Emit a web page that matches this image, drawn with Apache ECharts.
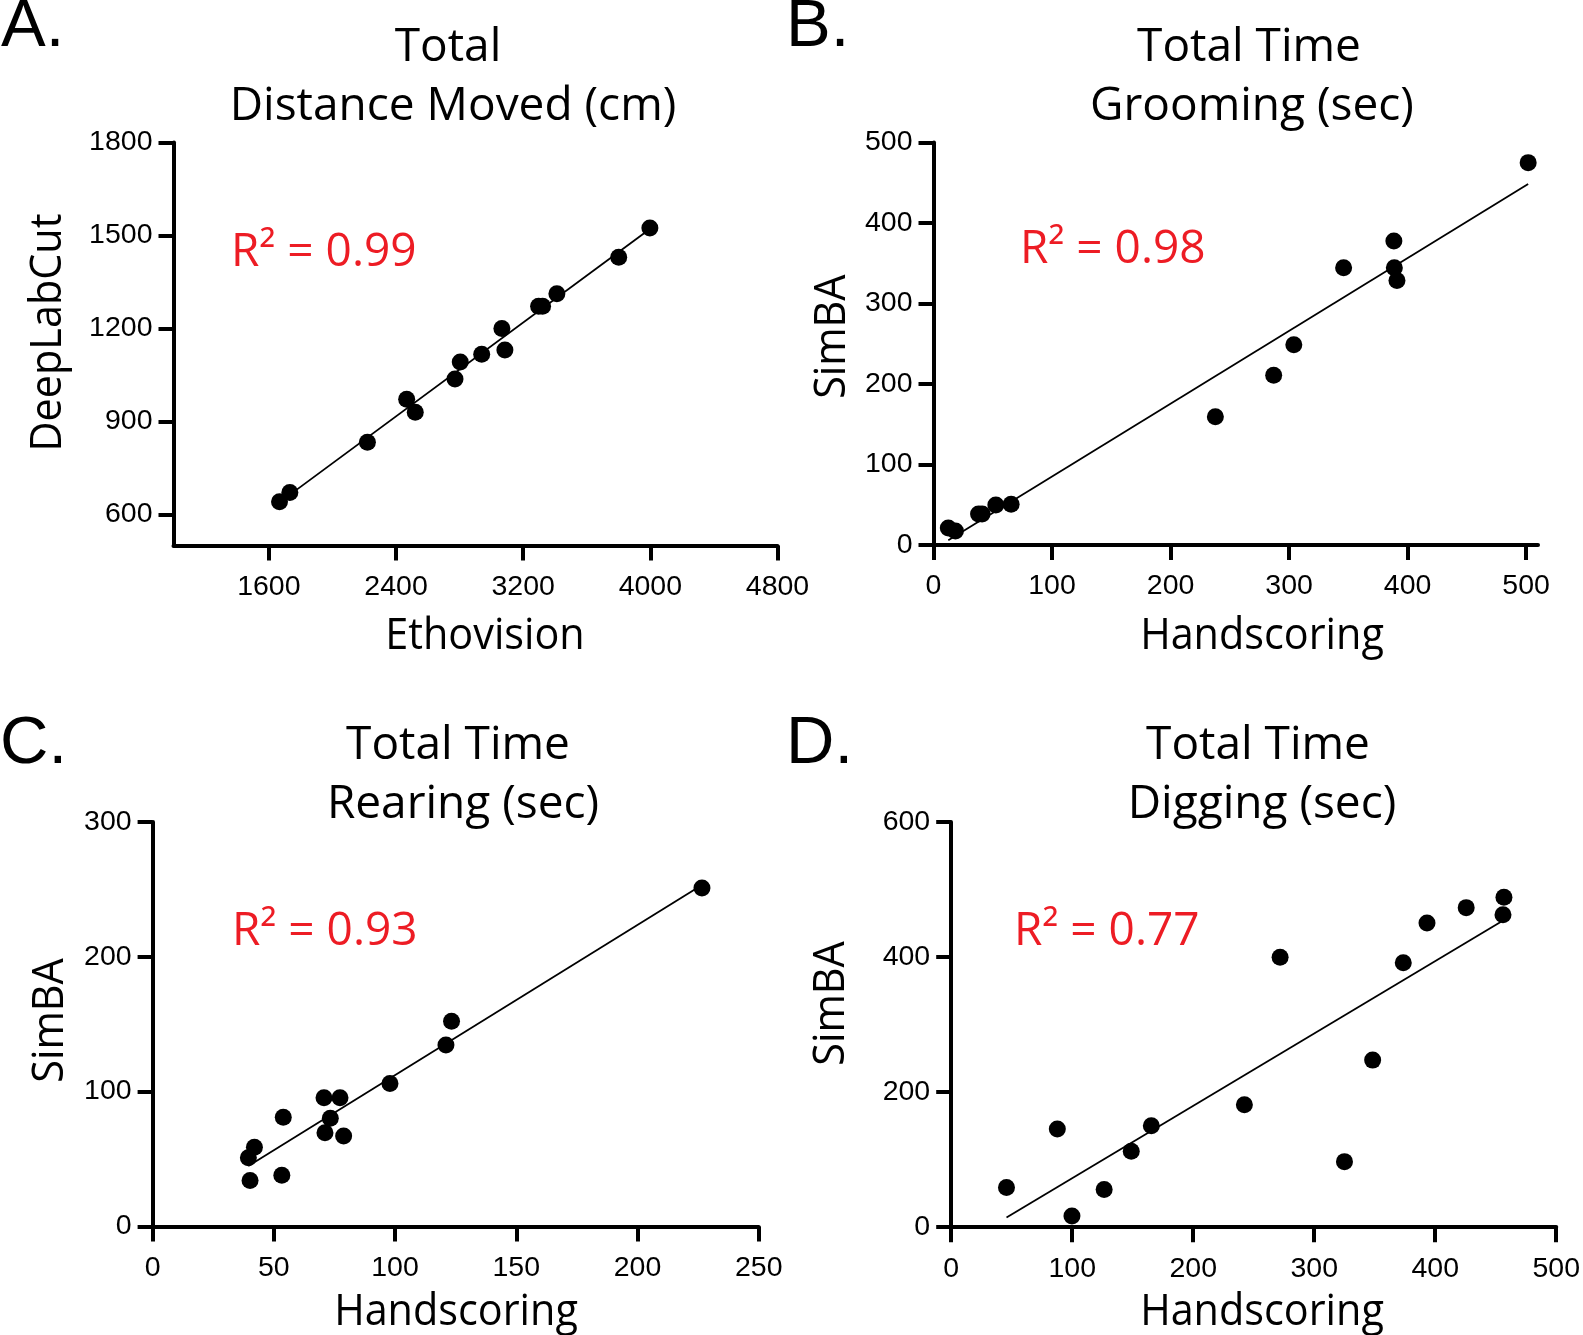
<!DOCTYPE html>
<html>
<head>
<meta charset="utf-8">
<script src="https://cdn.jsdelivr.net/npm/echarts@6.0.0/dist/echarts.min.js"></script>
<style>
html,body{margin:0;padding:0;background:#fff;}
#chart{width:1583px;height:1335px;}
</style>
</head>
<body>
<div id="chart"></div>
<script>
// ---------- Data ----------
// A: Total Distance Moved (cm) — Ethovision vs DeepLabCut
const A_x = [1667, 1732, 2220, 2467, 2521, 2771, 2804, 2939, 3066, 3085, 3297, 3322, 3412, 3801, 3997];
const A_y = [641, 671, 833, 972, 930, 1037, 1092, 1117, 1200, 1131, 1272, 1272, 1312, 1430, 1524];
// B: Total Time Grooming (sec) — Handscoring vs SimBA
const B_x = [12.5, 18.5, 38, 41, 52.6, 65.5, 237.8, 287, 304, 346, 388.4, 388.8, 391, 501.7];
const B_y = [21, 17.5, 38.5, 38.5, 49.7, 50.7, 159.4, 211, 248.7, 344.3, 377.7, 344.3, 328.6, 475];
// C: Total Time Rearing (sec)
const C_x = [39.5, 42, 40.2, 53.3, 53.9, 70.7, 77.3, 73.3, 71.1, 78.8, 97.9, 121, 123.3, 226.6];
const C_y = [51, 58.7, 34, 38, 80.9, 95.5, 95.5, 80.2, 69.5, 67, 106, 134.5, 152.2, 251];
// D: Total Time Digging (sec)
const D_x = [45.7, 87.7, 99.8, 126.4, 148.8, 165.4, 242.3, 271.8, 325, 348.3, 373.6, 393.2, 425.6, 456.8, 456];
const D_y = [58.8, 145.4, 16.7, 55.7, 112.6, 150.3, 181.2, 399.6, 97.1, 247.4, 391.5, 450.3, 473.2, 488.7, 462.7];

// Tick labels
const A_xticks = [1600, 2400, 3200, 4000, 4800];
const A_yticks = [600, 900, 1200, 1500, 1800];
const B_xticks = [0, 100, 200, 300, 400, 500];
const B_yticks = [0, 100, 200, 300, 400, 500];
const C_xticks = [0, 50, 100, 150, 200, 250];
const C_yticks = [0, 100, 200, 300];
const D_xticks = [0, 100, 200, 300, 400, 500];
const D_yticks = [0, 200, 400, 600];

// Text
const panelLetters = ['A.', 'B.', 'C.', 'D.'];
const titles = [['Total', 'Distance Moved (cm)'], ['Total Time', 'Grooming (sec)'], ['Total Time', 'Rearing (sec)'], ['Total Time', 'Digging (sec)']];
const rSquared = ['0.99', '0.98', '0.93', '0.77'];
const xNames = ['Ethovision', 'Handscoring', 'Handscoring', 'Handscoring'];
const yNames = ['DeepLabCut', 'SimBA', 'SimBA', 'SimBA'];

// ---------- Helpers ----------
function pairs(xs, ys) { return xs.map((x, i) => [x, ys[i]]); }
function fitLine(xs, ys) {
  const n = xs.length;
  const mx = xs.reduce((a, b) => a + b, 0) / n;
  const my = ys.reduce((a, b) => a + b, 0) / n;
  let sxy = 0, sxx = 0;
  for (let i = 0; i < n; i++) { sxy += (xs[i] - mx) * (ys[i] - my); sxx += (xs[i] - mx) ** 2; }
  const b = sxy / sxx, a = my - b * mx;
  const x0 = Math.min(...xs), x1 = Math.max(...xs);
  return [[x0, a + b * x0], [x1, a + b * x1]];
}

const TICKFONT = 'Liberation Sans';
const TEXTFONT = 'Open Sans';
const plain = v => String(v);

function xAxis(idx, min, max, ticks) {
  return {
    type: 'value', gridIndex: idx, min: min, max: max, position: 'bottom',
    axisLine: { show: true, onZero: false, lineStyle: { color: '#000', width: 4 } },
    axisTick: { show: true, length: 15, customValues: ticks, lineStyle: { color: '#000', width: 4 } },
    axisLabel: { show: true, customValues: ticks, formatter: plain, margin: 27, fontSize: 28.5, fontFamily: TICKFONT, color: '#000' },
    splitLine: { show: false }
  };
}
function yAxis(idx, min, max, ticks) {
  return {
    type: 'value', gridIndex: idx, min: min, max: max, position: 'left',
    axisLine: { show: true, onZero: false, lineStyle: { color: '#000', width: 4 } },
    axisTick: { show: true, length: 15, customValues: ticks, lineStyle: { color: '#000', width: 4 } },
    axisLabel: { show: true, customValues: ticks, formatter: plain, margin: 21, fontSize: 28.5, fontFamily: TICKFONT, color: '#000' },
    splitLine: { show: false }
  };
}
function scatter(idx, xs, ys) {
  return { type: 'scatter', xAxisIndex: idx, yAxisIndex: idx, data: pairs(xs, ys), symbol: 'circle', symbolSize: 17,
    itemStyle: { color: '#000', opacity: 1 }, z: 3, silent: true };
}
function fit(idx, xs, ys) {
  return { type: 'line', xAxisIndex: idx, yAxisIndex: idx, data: fitLine(xs, ys), symbol: 'none',
    lineStyle: { color: '#000', width: 1.8 }, z: 2, silent: true };
}
function txt(text, x, y, size, opts) {
  opts = opts || {};
  return {
    type: 'text', x: x, y: y, rotation: opts.rotation || 0, scaleX: opts.scaleX || 1, scaleY: 1,
    style: {
      text: text, fontSize: size, fontFamily: opts.font || TEXTFONT, fill: opts.fill || '#000',
      align: opts.align || 'center', textAlign: opts.align || 'center',
      verticalAlign: 'middle', textVerticalAlign: 'middle'
    }
  };
}

// ---------- Layout ----------
const grids = [
  { left: 173.5, top: 142.5, width: 604, height: 403 },
  { left: 933.5, top: 142.5, width: 604.5, height: 402.5 },
  { left: 152.6, top: 822, width: 606.1, height: 404.4 },
  { left: 951.2, top: 822, width: 613.8, height: 405.2 }
];

const RED = '#ED1C24';
const LET = { font: 'Liberation Sans', align: 'left' };
const AX = { scaleX: 0.94 };
const ROT = { rotation: Math.PI / 2, scaleX: 0.94 };
const graphics = [
  txt(panelLetters[0], 1, 28, 67, LET),
  txt(panelLetters[1], 786, 28, 67, LET),
  txt(panelLetters[2], 0, 745, 67, LET),
  txt(panelLetters[3], 786, 745, 67, LET),

  txt(titles[0][0], 448, 48, 46),
  txt(titles[0][1], 453, 107, 46),
  txt(titles[1][0], 1249, 48, 46),
  txt(titles[1][1], 1252, 107, 46),
  txt(titles[2][0], 458, 746, 46),
  txt(titles[2][1], 463, 805, 46),
  txt(titles[3][0], 1258, 746, 46),
  txt(titles[3][1], 1262, 805, 46),

  txt('R\u00B2 = ' + rSquared[0], 231, 253, 46, { fill: RED, align: 'left' }),
  txt('R\u00B2 = ' + rSquared[1], 1020, 250, 46, { fill: RED, align: 'left' }),
  txt('R\u00B2 = ' + rSquared[2], 232, 932, 46, { fill: RED, align: 'left' }),
  txt('R\u00B2 = ' + rSquared[3], 1014, 932, 46, { fill: RED, align: 'left' }),

  txt(xNames[0], 485, 636, 44, AX),
  txt(xNames[1], 1262, 636, 44, AX),
  txt(xNames[2], 456, 1312, 44, AX),
  txt(xNames[3], 1262, 1312, 44, AX),

  txt(yNames[0], 48.5, 332.5, 44, ROT),
  txt(yNames[1], 832, 336.7, 44, ROT),
  txt(yNames[2], 50.5, 1020.5, 44, ROT),
  txt(yNames[3], 831, 1003.6, 44, ROT)
];

const chart = echarts.init(document.getElementById('chart'), null, { renderer: 'canvas' });
chart.setOption({
  backgroundColor: '#fff',
  animation: false,
  grid: grids,
  xAxis: [xAxis(0, 1000, 4800, A_xticks), xAxis(1, 0, 510, B_xticks), xAxis(2, 0, 250, C_xticks), xAxis(3, 0, 500, D_xticks)],
  yAxis: [yAxis(0, 500, 1800, A_yticks), yAxis(1, 0, 500, B_yticks), yAxis(2, 0, 300, C_yticks), yAxis(3, 0, 600, D_yticks)],
  series: [
    fit(0, A_x, A_y), scatter(0, A_x, A_y),
    fit(1, B_x, B_y), scatter(1, B_x, B_y),
    fit(2, C_x, C_y), scatter(2, C_x, C_y),
    fit(3, D_x, D_y), scatter(3, D_x, D_y)
  ],
  graphic: graphics
});
</script>
</body>
</html>
